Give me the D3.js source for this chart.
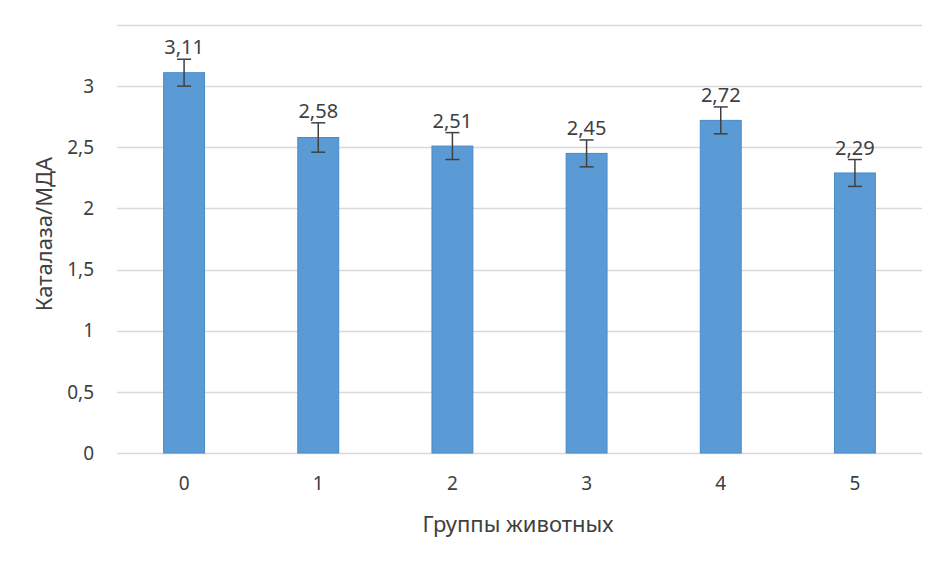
<!DOCTYPE html>
<html>
<head>
<meta charset="utf-8">
<script src="https://cdn.jsdelivr.net/npm/d3@7"></script>
<style>
  body { margin: 0; background: #fff; }
  text { font-family: "Noto Sans", "Open Sans", sans-serif; fill: #404040; }
</style>
</head>
<body>
<div id="chart"></div>
<script>
// groups of animals and their catalase/MDA ratio
var groups = ['0', '1', '2', '3', '4', '5'];
var values = [3.11, 2.58, 2.51, 2.45, 2.72, 2.29];
var errors = [0.11, 0.12, 0.11, 0.11, 0.11, 0.11];
var yTicks = [0, 0.5, 1, 1.5, 2, 2.5, 3, 3.5];

var width = 945;
var height = 567;

var fmt = function(v) { return String(v).replace('.', ','); };

var svg = d3.select('#chart')
  .append('svg')
  .attr('width', width)
  .attr('height', height);

var x = d3.scaleBand()
  .domain(groups)
  .range([117, 922])
  .paddingInner(0.695)
  .paddingOuter(0.3475);

var y = d3.scaleLinear()
  .domain([0, 3.5])
  .range([453, 25]);

//gridlines
svg.selectAll('.grid')
  .data(yTicks)
  .enter()
  .append('line')
  .attr('x1', 117)
  .attr('x2', 922)
  .attr('y1', function(d) { return Math.round(y(d)) + 0.5; })
  .attr('y2', function(d) { return Math.round(y(d)) + 0.5; })
  .attr('stroke', '#d9d9d9')
  .attr('stroke-width', 1.5);

//y tick labels (top one is not labelled)
svg.selectAll('.ylab')
  .data(yTicks.slice(0, -1))
  .enter()
  .append('text')
  .attr('x', 94)
  .attr('y', function(d) { return y(d); })
  .attr('dy', '0.35em')
  .attr('text-anchor', 'end')
  .style('font-size', '19px')
  .text(fmt);

//bars
svg.selectAll('.bar')
  .data(values)
  .enter()
  .append('rect')
  .attr('x', function(d, i) { return x(groups[i]); })
  .attr('y', function(d) { return y(d); })
  .attr('width', x.bandwidth())
  .attr('height', function(d) { return y(0) - y(d); })
  .attr('fill', '#5b9bd5')
  .attr('stroke', '#4a8ac9')
  .attr('stroke-width', 1);

//error bars
var eb = svg.selectAll('.err')
  .data(values)
  .enter()
  .append('g')
  .attr('stroke', '#404040')
  .attr('stroke-width', 1.5);

eb.append('line')
  .attr('x1', function(d, i) { return x(groups[i]) + x.bandwidth() / 2; })
  .attr('x2', function(d, i) { return x(groups[i]) + x.bandwidth() / 2; })
  .attr('y1', function(d, i) { return y(d + errors[i]); })
  .attr('y2', function(d, i) { return y(d - errors[i]); });

[1, -1].forEach(function(s) {
  eb.append('line')
    .attr('x1', function(d, i) { return x(groups[i]) + x.bandwidth() / 2 - 7; })
    .attr('x2', function(d, i) { return x(groups[i]) + x.bandwidth() / 2 + 7; })
    .attr('y1', function(d, i) { return y(d + s * errors[i]); })
    .attr('y2', function(d, i) { return y(d + s * errors[i]); });
});

//value labels
svg.selectAll('.vlab')
  .data(values)
  .enter()
  .append('text')
  .attr('x', function(d, i) { return x(groups[i]) + x.bandwidth() / 2; })
  .attr('y', function(d, i) { return y(d + errors[i]) - 5; })
  .attr('text-anchor', 'middle')
  .style('font-size', '20px')
  .text(fmt);

//x tick labels
svg.selectAll('.xlab')
  .data(groups)
  .enter()
  .append('text')
  .attr('x', function(d) { return x(d) + x.bandwidth() / 2; })
  .attr('y', 490)
  .attr('text-anchor', 'middle')
  .style('font-size', '19px')
  .text(function(d) { return d; });

//axis titles
svg.append('text')
  .attr('x', 518)
  .attr('y', 532)
  .attr('text-anchor', 'middle')
  .style('font-size', '22px')
  .text('Группы животных');

svg.append('text')
  .attr('transform', 'translate(52,' + 234 + ') rotate(-90)')
  .attr('text-anchor', 'middle')
  .style('font-size', '22px')
  .text('Каталаза/МДА');
</script>
</body>
</html>
